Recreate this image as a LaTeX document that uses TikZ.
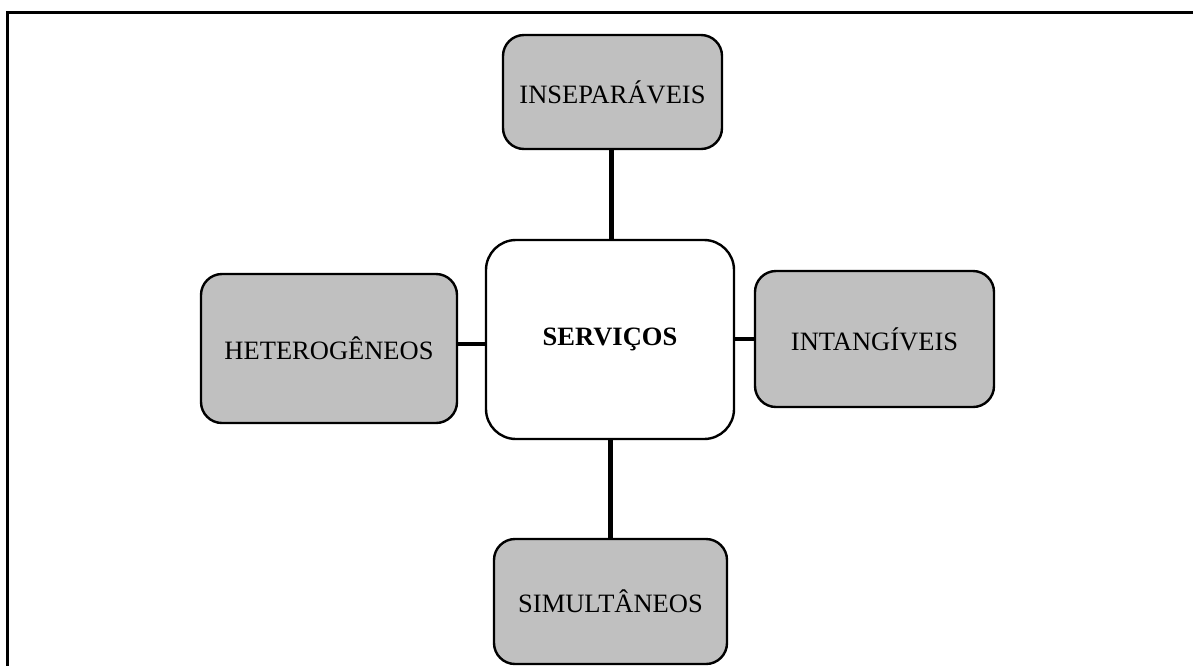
\documentclass[tikz,border=0pt]{standalone}
\usepackage{fontspec}
\setmainfont{Liberation Serif}
\definecolor{boxgray}{HTML}{C0C0C0}
\begin{document}
\begin{tikzpicture}[x=1pt,y=-1pt,
  box/.style={draw=black, line width=2.4pt, rounded corners=21pt, fill=boxgray,
    inner sep=0pt, align=center, font=\fontsize{26.5}{30}\selectfont},
  mainbox/.style={box, fill=white, rounded corners=30pt, font=\fontsize{26.5}{30}\selectfont\bfseries},
  conn/.style={line width=4.5pt}]
\useasboundingbox (0,0) rectangle (1193,665);
\draw[line width=3pt] (7.5,668) -- (7.5,12.5) -- (1196,12.5);
\node[mainbox, minimum width=248pt, minimum height=199pt] (c) at (610,339.5) {SERVIÇOS};
\node[box, minimum width=219pt, minimum height=114pt] (t) at (612.5,92) {INSEPARÁVEIS};
\node[box, minimum width=256pt, minimum height=149pt] (l) at (329,348.5) {HETEROGÊNEOS};
\node[box, minimum width=239pt, minimum height=136pt] (r) at (874.5,339) {INTANGÍVEIS};
\node[box, minimum width=233pt, minimum height=125pt] (b) at (610.5,601.5) {SIMULTÂNEOS};
\draw[conn] ([xshift=-0.8pt]t.south) -- ([xshift=-0.8pt]t.south |- c.north);
\draw[conn] ([yshift=4.5pt]l.east) -- ([yshift=4.5pt]l.east -| c.west);
\draw[conn] (r.west) -- (r.west -| c.east);
\draw[conn] (b.north) -- (b.north |- c.south);
\end{tikzpicture}
\end{document}
